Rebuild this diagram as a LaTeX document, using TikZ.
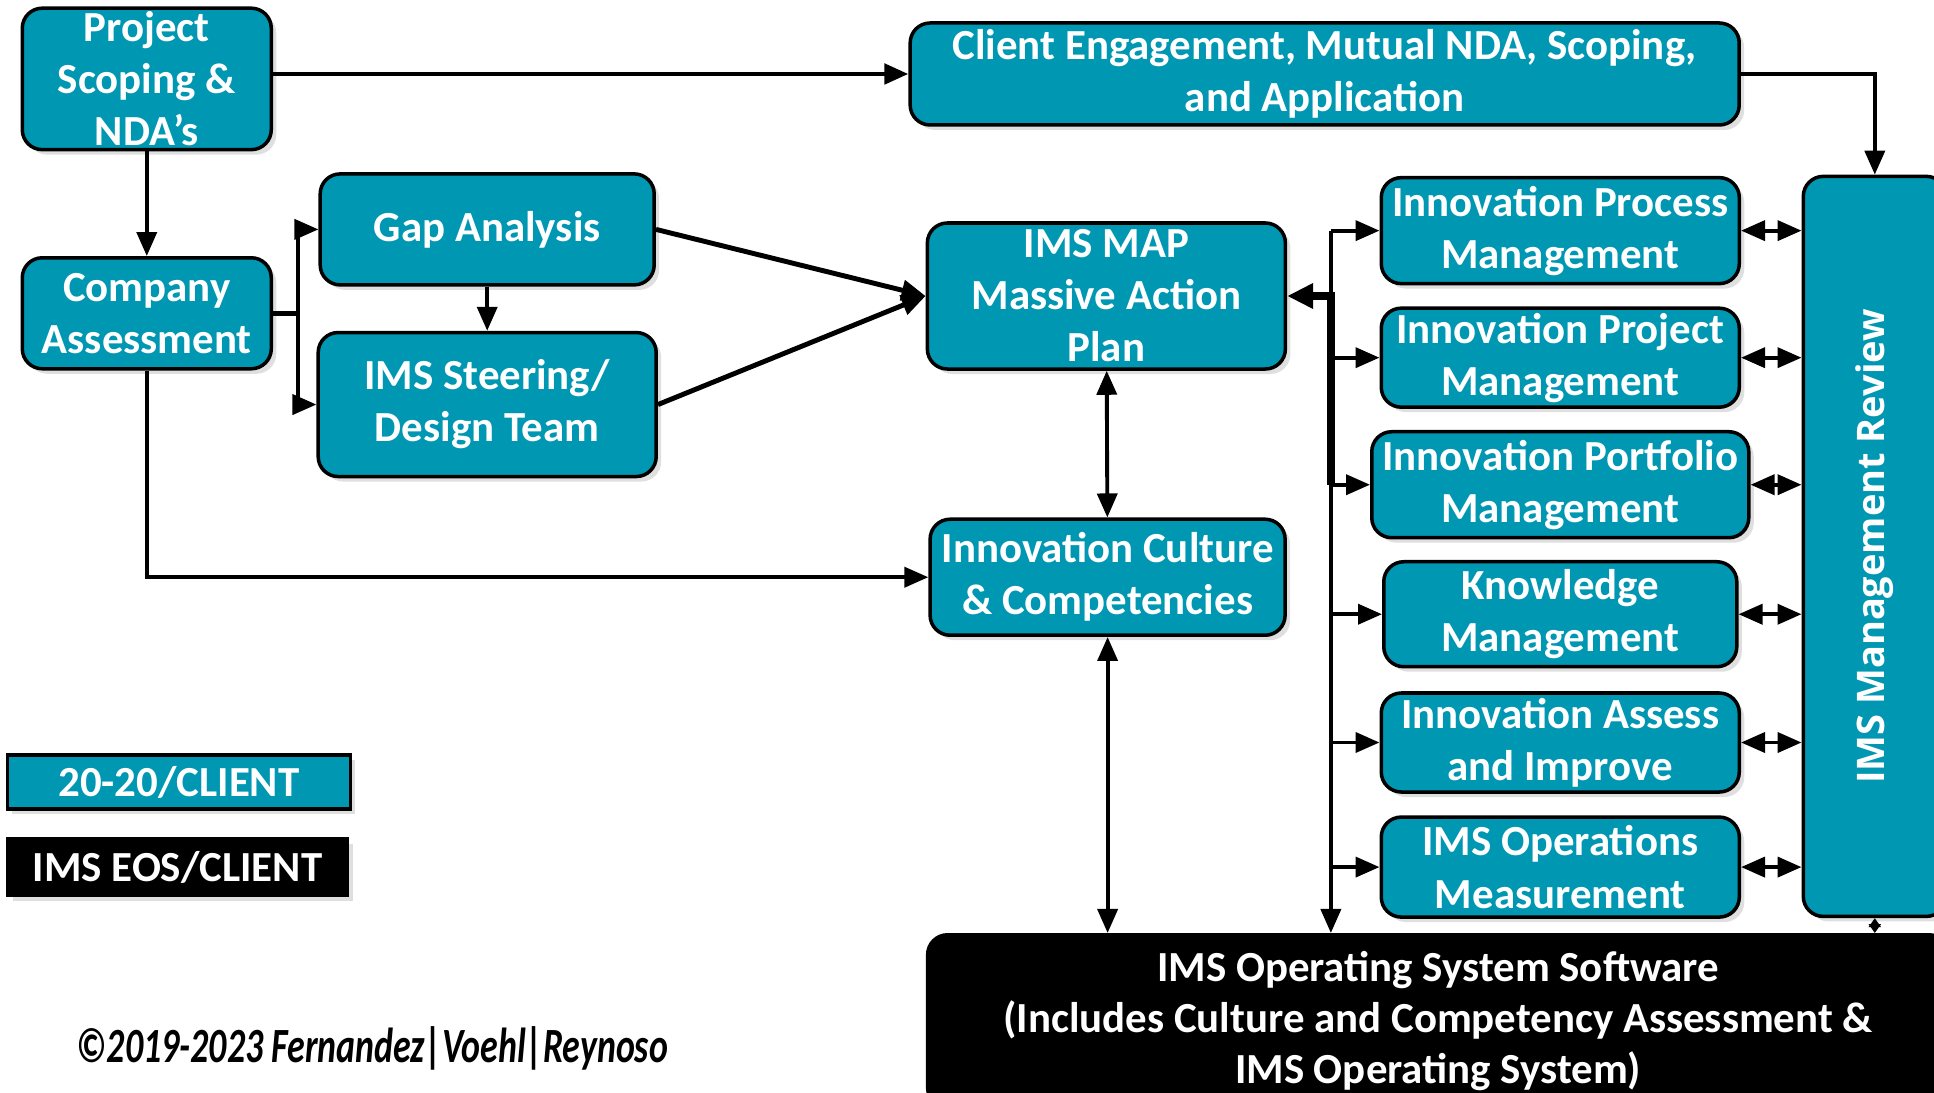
\documentclass[tikz,border=0pt]{standalone}
\usepackage{fontspec}
\setmainfont{Carlito}
\newfontfamily\reviewfont{Open Sans}
\usetikzlibrary{positioning,arrows.meta,shadows}
\definecolor{imsteal}{RGB}{0,151,178}

\begin{document}
\begin{tikzpicture}[x=0.12334mm,y=-0.12334mm,
  box/.style={draw=black,line width=1pt,fill=imsteal,rounded corners=2mm,text=white,
    font=\fontsize{12.2}{14.8}\selectfont\bfseries,align=center,inner sep=1pt,
    drop shadow={opacity=0.25,shadow xshift=0.5mm,shadow yshift=-0.5mm}},
  darkbox/.style={box,fill=black},
  con/.style={line width=1.1pt,-{Triangle[length=2.4mm,width=2mm]}},
  dbl/.style={line width=1.1pt,{Triangle[length=2.4mm,width=2mm]}-{Triangle[length=2.4mm,width=2mm]}}]
\useasboundingbox (0,0) rectangle (1568,886);

%left column
\node[box,minimum width=24.9mm,minimum height=13.9mm] (prj) at (119,64) {Project\\Scoping \&\\NDA’s};
\node[box,minimum width=24.9mm,minimum height=11.1mm] (com) at (119,254) {Company\\Assessment};
\node[box,minimum width=33.4mm,minimum height=11.1mm] (gap) at (395,186) {Gap Analysis};
\node[box,minimum width=33.8mm,minimum height=14.4mm] (ims) at (395,328) {IMS Steering/\\Design Team};

%middle
\node[box,minimum width=82.9mm,minimum height=10.2mm] (cli) at (1074,60) {Client Engagement, Mutual NDA, Scoping,\\and Application};
\node[box,minimum width=35.8mm,minimum height=14.6mm] (map) at (897,240) {IMS MAP\\Massive Action\\Plan};
\node[box,minimum width=35.5mm,minimum height=11.6mm] (cul) at (898,468) {Innovation Culture\\\& Competencies};

%right column
\node[box,minimum width=35.8mm,minimum height=10.6mm] (ipm) at (1265,187) {Innovation Process\\Management};
\node[box,minimum width=35.8mm,minimum height=9.9mm] (ijm) at (1265,290) {Innovation Project\\Management};
\node[box,minimum width=37.7mm,minimum height=10.6mm] (ipf) at (1265,393) {Innovation Portfolio\\Management};
\node[box,minimum width=35.3mm,minimum height=10.5mm] (knm) at (1265,498) {Knowledge\\Management};
\node[box,minimum width=35.8mm,minimum height=9.9mm] (iai) at (1265,602) {Innovation Assess\\and Improve};
\node[box,minimum width=35.8mm,minimum height=10mm] (iom) at (1265,703) {IMS Operations\\Measurement};
\node[box,minimum width=14.3mm,minimum height=74mm] (rev) at (1520,443)
  {\rotatebox{90}{\reviewfont\fontsize{10.8}{13}\selectfont\bfseries IMS Management Review}};
\node[darkbox,minimum width=102.1mm,minimum height=17.3mm,font=\fontsize{12.2}{14.5}\selectfont\bfseries] (os) at (1166,828)
  {IMS Operating System Software\\(Includes Culture and Competency Assessment \&\\IMS Operating System)};

%legend
\node[box,rounded corners=0pt,minimum width=34.3mm,minimum height=5.4mm] (leg1) at (145,634) {20-20/CLIENT};
\node[darkbox,rounded corners=0pt,minimum width=34mm,minimum height=5.7mm] (leg2) at (144,703) {IMS EOS/CLIENT};
\node[font=\fontsize{14}{16}\selectfont\bfseries\itshape] (cpy) at (302,850) {\scalebox{0.73}[1]{©2019-2023 Fernandez|Voehl|Reynoso}};

%connectors
\draw[con,line width=1.4pt] (prj.east |- cli.west) -- (cli.west);
\draw[con] (cli.east) -| (rev.north);
\draw[con] (prj) -- (com);
\coordinate[right=2.5mm of com.east] (cb);
\draw[line width=1.4pt] (com.east) -- (cb);
\draw[con] (cb) |- (gap.west);
\draw[con] (cb) |- (ims.west);
\draw[con] (gap) -- (ims);
\draw[con,line width=1.4pt] (gap.east) -- (map.west);
\draw[con,line width=1.4pt] (ims.east) -- (map.west);
\draw[con] (com.south) |- (cul.west);
\draw[dbl] (map) -- (cul);
\draw[dbl] (cul.south) -- (cul.south |- os.north);

%bus
\coordinate (bt) at (1079,187);
\draw[con] (bt) -- (bt |- os.north);
\draw[line width=2.4pt,-{Triangle[length=2.6mm,width=2.4mm]}] (bt |- ipf.west) -- (bt |- map.east) -- (map.east);
\foreach \n in {ipm,ijm,ipf,knm,iai,iom}
  \draw[con] (bt |- \n.west) -- (\n.west);
\foreach \n in {ipm,ijm,ipf,knm,iai,iom}
  \draw[dbl] (\n.east) -- (\n.east -| rev.west);
\draw[line width=0.8pt,{Triangle[length=0.9mm,width=1.2mm]}-{Triangle[length=0.9mm,width=1.2mm]}] (rev.south) -- (rev.south |- os.north);
\end{tikzpicture}
\end{document}
